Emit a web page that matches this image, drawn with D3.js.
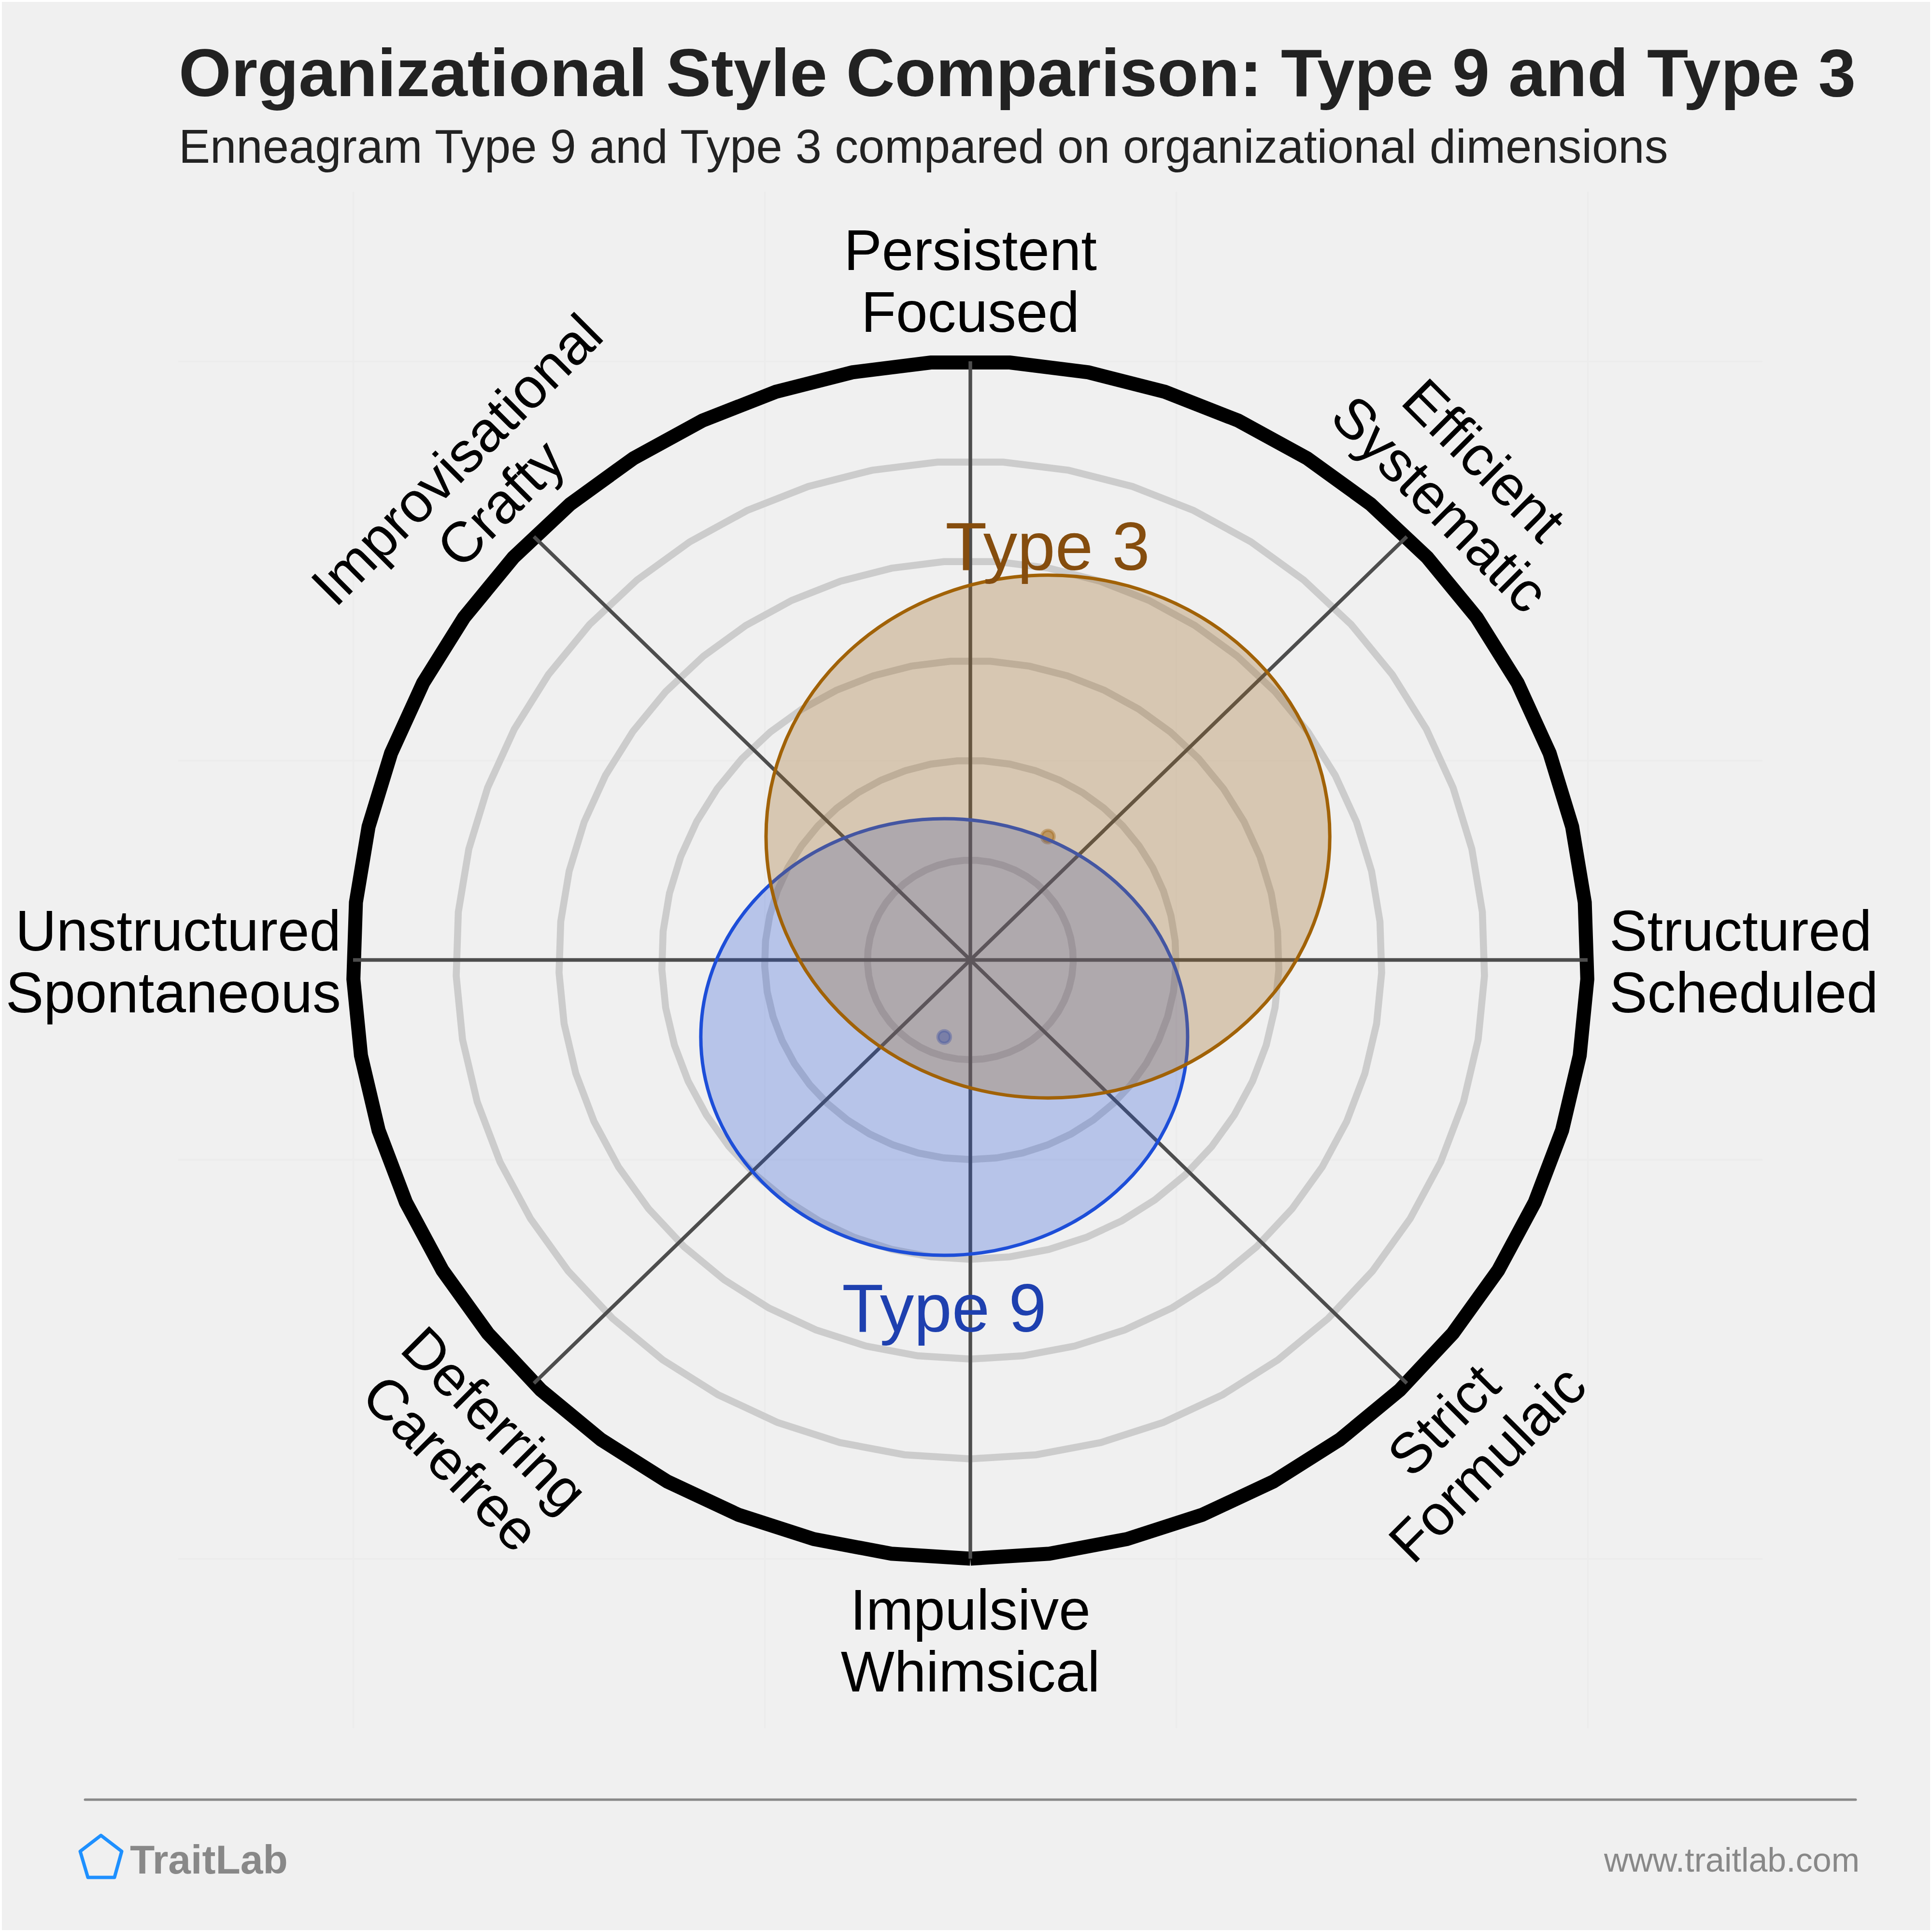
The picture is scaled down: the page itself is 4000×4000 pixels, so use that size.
<!DOCTYPE html>
<html>
<head>
<meta charset="utf-8">
<title>Organizational Style Comparison</title>
<script src="https://cdn.jsdelivr.net/npm/d3@7"></script>
<style>
  html, body { margin: 0; padding: 0; background: #fff; }
  svg { display: block; }
  text { font-family: "Liberation Sans", Arial, sans-serif; }
</style>
</head>
<body>
<div id="chart"></div>
<script>
const chartTitle = 'Organizational Style Comparison: Type 9 and Type 3';
const chartSubtitle = 'Enneagram Type 9 and Type 3 compared on organizational dimensions';

// clockwise from the top, in degrees
const axisAngles = [0, 45, 90, 135, 180, 225, 270, 315];
const axisLabels = [
  ['Persistent', 'Focused'],
  ['Efficient', 'Systematic'],
  ['Structured', 'Scheduled'],
  ['Strict', 'Formulaic'],
  ['Impulsive', 'Whimsical'],
  ['Deferring', 'Carefree'],
  ['Unstructured', 'Spontaneous'],
  ['Improvisational', 'Crafty'],
];
const ringLevels = [1, 2, 3, 4, 5, 6];
const gridTicks = [-6, -2, 2, 6];

const typeNames = ['Type 9', 'Type 3'];
const typeCenterX = [-0.254, 0.754];
const typeCenterY = [-0.772, 1.237];
const typeSpreadX = [2.366, 2.74];
const typeSpreadY = [2.188, 2.62];

const width = 4000;
const height = 4000;
const limit = 7.7;
const ringSegments = 49;

const x = d3.scaleLinear().domain([-6, 6]).range([731, 3287]);
const y = d3.scaleLinear().domain([-6, 6]).range([3227, 748]);
const rx = (v) => x(v) - x(0);
const ry = (v) => y(0) - y(v);

const typeStroke = ['#1d4ed8', '#a16207'];
const typeFill = ['#1d4ed8', '#a06b25'];
const typeFillOpacity = [0.27, 0.3];
const typeLabelColor = ['#1e40af', '#854d0e'];
const typeLabelPos = [[1955, 2757], [2169, 1180]];

const svg = d3
  .select('#chart')
  .append('svg')
  .attr('width', width)
  .attr('height', height);

svg
  .append('rect')
  .attr('x', 4)
  .attr('y', 4)
  .attr('width', width - 8)
  .attr('height', height - 8)
  .attr('fill', '#f0f0f0');

// faint background grid
const gridX = svg
  .append('g')
  .attr('transform', `translate(0, ${y(-limit)})`)
  .call(
    d3
      .axisBottom(x)
      .tickValues(gridTicks)
      .tickSize(y(limit) - y(-limit))
      .tickFormat('')
  );
const gridY = svg
  .append('g')
  .attr('transform', `translate(${x(-limit)}, 0)`)
  .call(
    d3
      .axisRight(y)
      .tickValues(gridTicks)
      .tickSize(x(limit) - x(-limit))
      .tickFormat('')
  );
[gridX, gridY].forEach((g) => {
  g.select('.domain').remove();
  g.selectAll('line').attr('stroke', '#ececec').attr('stroke-width', 3.5);
});

// rings start and end at the bottom, the seam is left open like the original
const ringLine = d3
  .line()
  .x((d) => x(d.r * Math.sin(d.a)))
  .y((d) => y(d.r * Math.cos(d.a)));

svg
  .append('g')
  .selectAll('path')
  .data(ringLevels)
  .join('path')
  .attr('d', (level) =>
    ringLine(
      d3
        .range(ringSegments + 1)
        .map((i) => ({ r: level, a: Math.PI + (i / ringSegments) * 2 * Math.PI }))
    )
  )
  .attr('fill', 'none')
  .attr('stroke', (level) => (level === 6 ? '#000' : '#ccc'))
  .attr('stroke-width', (level) => (level === 6 ? 29 : 14.5));

svg
  .append('g')
  .selectAll('line')
  .data(axisAngles)
  .join('line')
  .attr('x1', x(0))
  .attr('y1', y(0))
  .attr('x2', (a) => x(6 * Math.sin((a * Math.PI) / 180)))
  .attr('y2', (a) => y(6 * Math.cos((a * Math.PI) / 180)))
  .attr('stroke', '#4d4d4d')
  .attr('stroke-width', 7.5);

// the centre dots sit underneath the two ellipses
const dots = svg.append('g');
[1, 0].forEach((i) => {
  dots
    .append('circle')
    .attr('cx', x(typeCenterX[i]))
    .attr('cy', y(typeCenterY[i]))
    .attr('r', 13)
    .attr('fill', typeStroke[i])
    .attr('fill-opacity', 0.5)
    .attr('stroke', typeStroke[i])
    .attr('stroke-opacity', 0.4)
    .attr('stroke-width', 6.5);
});

typeNames.forEach((name, i) => {
  svg
    .append('ellipse')
    .attr('cx', x(typeCenterX[i]))
    .attr('cy', y(typeCenterY[i]))
    .attr('rx', rx(typeSpreadX[i]))
    .attr('ry', ry(typeSpreadY[i]))
    .attr('fill', typeFill[i])
    .attr('fill-opacity', typeFillOpacity[i])
    .attr('stroke', typeStroke[i])
    .attr('stroke-width', 7);
});

typeNames.forEach((name, i) => {
  svg
    .append('text')
    .attr('x', typeLabelPos[i][0])
    .attr('y', typeLabelPos[i][1])
    .attr('text-anchor', 'middle')
    .attr('font-size', 141)
    .attr('fill', typeLabelColor[i])
    .text(name);
});

// anchor of each label block and its rotation, same order as axisLabels
const labelPos = [
  [2009, 581, 0, 'middle'],
  [3028, 997, 45, 'middle'],
  [3332, 1990, 0, 'start'],
  [3033, 2984, -45, 'middle'],
  [2009, 3396, 0, 'middle'],
  [980, 2983, 45, 'middle'],
  [706, 1990, 0, 'end'],
  [990, 996, -45, 'middle'],
];
const labelGroups = svg
  .append('g')
  .selectAll('g')
  .data(axisLabels)
  .join('g')
  .attr(
    'transform',
    (d, i) =>
      `translate(${labelPos[i][0]}, ${labelPos[i][1]}) rotate(${labelPos[i][2]})`
  );
labelGroups
  .selectAll('text')
  .data((d, i) => d.map((t) => ({ t, anchor: labelPos[i][3] })))
  .join('text')
  .attr('y', (d, i) => (i === 0 ? -22 : 106))
  .attr('text-anchor', (d) => d.anchor)
  .attr('font-size', 117.8)
  .attr('fill', '#000')
  .text((d) => d.t);

svg
  .append('text')
  .attr('x', 370)
  .attr('y', 199)
  .attr('font-size', 139.7)
  .attr('font-weight', 700)
  .attr('fill', '#222')
  .text(chartTitle);

svg
  .append('text')
  .attr('x', 370)
  .attr('y', 337)
  .attr('font-size', 97.6)
  .attr('fill', '#222')
  .text(chartSubtitle);

// footer
svg
  .append('line')
  .attr('x1', 176)
  .attr('x2', 3842)
  .attr('y1', 3726)
  .attr('y2', 3726)
  .attr('stroke', '#888')
  .attr('stroke-width', 5)
  .attr('stroke-linecap', 'round');

svg
  .append('polygon')
  .attr('points', '209,3800 252,3833 237,3887 182,3887 166,3833')
  .attr('fill', 'none')
  .attr('stroke', '#1e90ff')
  .attr('stroke-width', 7)
  .attr('stroke-linejoin', 'round');

svg
  .append('text')
  .attr('x', 269)
  .attr('y', 3879)
  .attr('font-size', 84)
  .attr('font-weight', 700)
  .attr('fill', '#888')
  .text('TraitLab');

svg
  .append('text')
  .attr('x', 3850)
  .attr('y', 3875)
  .attr('text-anchor', 'end')
  .attr('font-size', 70)
  .attr('fill', '#888')
  .text('www.traitlab.com');
</script>
</body>
</html>
